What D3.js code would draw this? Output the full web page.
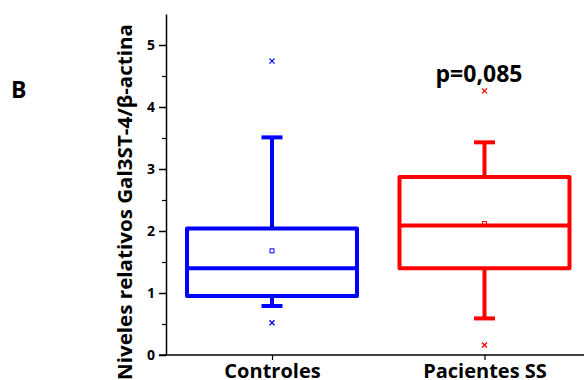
<!DOCTYPE html>
<html>
<head>
<meta charset="utf-8">
<script src="https://cdn.jsdelivr.net/npm/d3@7"></script>
<style>
  body { margin: 0; background: #fff; }
  text { font-family: "Open Sans", "Noto Sans", sans-serif; font-weight: bold; }
</style>
</head>
<body>
<svg id="chart"></svg>
<script>
// box plot values
const groups = ["Controles", "Pacientes SS"];
const colors = ["#0000ff", "#ff0000"];
const q1 = [0.95, 1.40];
const median = [1.40, 2.09];
const q3 = [2.04, 2.87];
const whiskLow = [0.79, 0.59];
const whiskHigh = [3.51, 3.43];
const means = [1.68, 2.12];
const outliers = [[0.52, 4.74], [0.16, 4.26]];
const yTicks = [0, 1, 2, 3, 4, 5];

const width = 584, height = 380;
const margin = { top: 14, right: 0, bottom: 25, left: 166 };

const svg = d3.select("#chart").attr("width", width).attr("height", height);

const y = d3.scaleLinear()
    .domain([0, 5.5])
    .range([height - margin.bottom, margin.top]);

const x = d3.scalePoint()
    .domain(groups)
    .range([272, 484.5]);

const boxW = 170, capW = 21;

// y axis with minor ticks
svg.append("g")
    .attr("transform", `translate(${margin.left},0)`)
    .call(d3.axisLeft(y).tickValues(d3.range(0.5, 5.5, 1)).tickSize(4).tickFormat(""))
    .call(g => g.select(".domain").remove())
    .call(g => g.selectAll("line").attr("stroke", "#000").attr("stroke-width", 1.2));

svg.append("g")
    .attr("transform", `translate(${margin.left},0)`)
    .call(d3.axisLeft(y).tickValues(yTicks).tickFormat(d3.format("d")).tickSize(7).tickSizeOuter(0).tickPadding(4))
    .call(g => g.select(".domain").attr("stroke-width", 1.5))
    .call(g => g.selectAll("line").attr("stroke-width", 1.5))
    .call(g => g.selectAll("text").attr("font-size", 14).attr("fill", "#000"));

// x axis
svg.append("g")
    .attr("transform", `translate(0,${y(0)})`)
    .call(d3.axisBottom(x).tickSize(5).tickSizeOuter(0).tickPadding(4))
    .call(g => g.select(".domain").attr("d", `M159,0H${width}`).attr("stroke-width", 1.5))
    .call(g => g.selectAll("line").attr("stroke-width", 1.2))
    .call(g => g.selectAll("text").attr("font-size", 20).attr("fill", "#000").attr("dy", "0.71em"));

// boxes
groups.forEach((grp, i) => {
    const cx = x(grp);
    const g = svg.append("g")
        .attr("stroke", colors[i])
        .attr("fill", "none")
        .attr("stroke-width", 4);

    g.append("line").attr("x1", cx).attr("x2", cx).attr("y1", y(q3[i])).attr("y2", y(whiskHigh[i]));
    g.append("line").attr("x1", cx).attr("x2", cx).attr("y1", y(q1[i])).attr("y2", y(whiskLow[i]));
    g.append("line").attr("x1", cx - capW / 2).attr("x2", cx + capW / 2)
        .attr("y1", y(whiskHigh[i])).attr("y2", y(whiskHigh[i]));
    g.append("line").attr("x1", cx - capW / 2).attr("x2", cx + capW / 2)
        .attr("y1", y(whiskLow[i])).attr("y2", y(whiskLow[i]));

    g.append("rect")
        .attr("x", cx - boxW / 2)
        .attr("y", y(q3[i]))
        .attr("width", boxW)
        .attr("height", y(q1[i]) - y(q3[i]))
        .attr("stroke-linejoin", "round");
    g.append("line").attr("x1", cx - boxW / 2).attr("x2", cx + boxW / 2)
        .attr("y1", y(median[i])).attr("y2", y(median[i]));

    // mean
    svg.append("rect")
        .attr("x", cx - 2).attr("y", y(means[i]) - 2)
        .attr("width", 4).attr("height", 4)
        .attr("fill", "none").attr("stroke", colors[i]).attr("stroke-width", 1);

    // outliers
    svg.append("g").selectAll("path")
        .data(outliers[i])
        .join("path")
        .attr("d", d => `M${cx - 2.5},${y(d) - 2.5}l5,5M${cx + 2.5},${y(d) - 2.5}l-5,5`)
        .attr("stroke", colors[i])
        .attr("stroke-width", 1.3);
});

// p value
svg.append("text")
    .attr("x", 479).attr("y", 82)
    .attr("text-anchor", "middle")
    .attr("font-size", 23)
    .text("p=0,085");

// panel letter
svg.append("text")
    .attr("x", 11).attr("y", 98)
    .attr("font-size", 23)
    .text("B");

// y label
svg.append("text")
    .attr("transform", `translate(132,${202}) rotate(-90)`)
    .attr("text-anchor", "middle")
    .attr("font-size", 19)
    .attr("textLength", 356)
    .attr("lengthAdjust", "spacingAndGlyphs")
    .text("Niveles relativos Gal3ST-4/β-actina");
</script>
</body>
</html>
